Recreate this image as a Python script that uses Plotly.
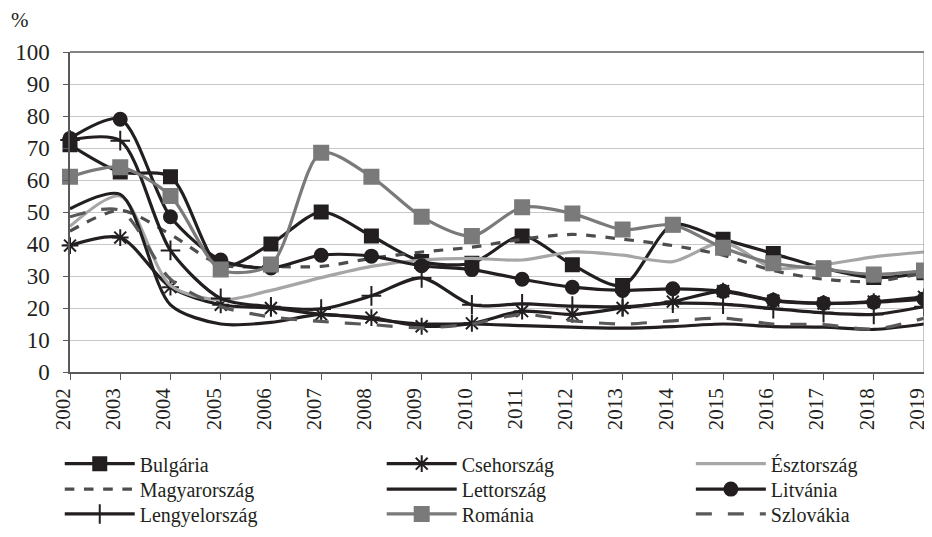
import plotly.graph_objects as go

years = list(range(2002, 2020))

bulgaria = [71, 62.5, 61, 33, 40, 50, 42.5, 34.5, 34, 42.5, 33.5, 27, 46, 41.5, 37, 32.5, 29.5, 31]
csehorszag = [39.5, 42, 26.5, 21, 20, 18, 17, 14.3, 15.2, 19, 18, 20, 22, 25.3, 22.3, 21.4, 22, 23.5]
esztorszag = [45.5, 55, 27, 22.5, 25.5, 29.5, 33, 35, 35.5, 35, 37.5, 36.5, 34.5, 40.5, 32.5, 33.5, 36, 37.5]
magyarorszag = [44, 50.5, 43, 33.5, 33, 33, 35.5, 37.5, 39, 41.5, 43, 41.5, 39.5, 36.5, 31.7, 29, 28.3, 31]
lettorszag = [51, 55.5, 21, 15, 15.5, 18, 16.5, 15, 15, 14.5, 14, 13.7, 14.2, 15, 14.2, 14, 13.3, 15]
litvania = [73, 79, 48.5, 35, 32.5, 36.5, 36.2, 33.2, 32, 29, 26.5, 25.5, 26, 25.2, 22.4, 21.5, 21.8, 22.8]
lengyelorszag = [72.5, 72.3, 38, 23, 20.4, 19.7, 23.8, 29.4, 21, 21.3, 20.6, 20.4, 21.5, 21.2, 19.8, 18.5, 18, 20.4]
romania = [61, 64, 55, 32, 33.6, 68.5, 61, 48.5, 42.5, 51.5, 49.5, 44.5, 46, 38.8, 34, 32.2, 30.5, 31.7]
szlovakia = [48.5, 50.5, 29, 20.5, 17.2, 15.8, 14.8, 13.8, 15, 18, 16, 15, 16, 16.8, 15, 14.8, 13.4, 16.8]

y_ticks = [0, 10, 20, 30, 40, 50, 60, 70, 80, 90, 100]

BLACK = "#231f20"
FONT = "Liberation Serif, Times New Roman, DejaVu Serif, serif"
series = [
    ("Bulgária", bulgaria, BLACK, "solid", "square", 13),
    ("Csehország", csehorszag, BLACK, "solid", "asterisk-open", 14),
    ("Észtország", esztorszag, "#a6a6a6", "solid", None, 0),
    ("Magyarország", magyarorszag, "#4d4d4d", "dash", None, 0),
    ("Lettország", lettorszag, BLACK, "solid", None, 0),
    ("Litvánia", litvania, BLACK, "solid", "circle", 13),
    ("Lengyelország", lengyelorszag, BLACK, "solid", "cross-thin-open", 14),
    ("Románia", romania, "#7a7a7a", "solid", "square", 14),
    ("Szlovákia", szlovakia, "#595959", "longdash", None, 0),
]

# legend grid: 3 columns x 3 rows (row-major), one legend box per entry
col_x = [-0.012, 0.365, 0.727]
row_y = [-0.2866, -0.3659, -0.4436]

fig = go.Figure()
legend_layouts = {}
for i, (name, vals, color, dash, sym, size) in enumerate(series):
    if sym:
        mode = "lines+markers"
        marker = dict(symbol=sym, size=size, color=color,
                      line=dict(color=color, width=2))
    else:
        mode = "lines"
        marker = None
    lname = "legend" if i == 0 else f"legend{i + 1}"
    fig.add_trace(go.Scatter(
        x=years, y=vals, name=name, mode=mode,
        line=dict(color=color, width=3.2, dash=dash, shape="spline", smoothing=0.8),
        marker=marker, cliponaxis=False, legend=lname,
    ))
    r, c = divmod(i, 3)
    legend_layouts[lname] = dict(
        x=col_x[c], xanchor="left", y=row_y[r], yanchor="middle",
        orientation="v", itemwidth=70, bgcolor="rgba(0,0,0,0)",
        font=dict(family=FONT, size=20, color=BLACK),
    )

fig.update_layout(
    width=932, height=537,
    margin=dict(l=62, r=16, t=44, b=165),
    paper_bgcolor="white", plot_bgcolor="white",
    font=dict(family=FONT, size=20, color=BLACK),
    showlegend=True,
    xaxis=dict(
        range=[2002, 2019], tickmode="array", tickvals=years,
        ticktext=[str(y) for y in years], tickangle=-90,
        showgrid=False, showline=True, linecolor="#595959", linewidth=1.5,
        ticks="outside", ticklen=6, tickcolor="#595959", mirror=False,
        zeroline=False, tickfont=dict(family=FONT, size=21, color=BLACK),
        ticklabeloverflow="allow", automargin=False, ticklabelshift=-7,
    ),
    yaxis=dict(
        range=[0, 100], tickmode="array", tickvals=y_ticks,
        showgrid=True, gridcolor="#c8c8c8", gridwidth=1.2,
        showline=True, linecolor="#595959", linewidth=1.5,
        ticks="outside", ticklen=5, tickcolor="#595959",
        zeroline=False, tickfont=dict(family=FONT, size=23, color=BLACK),
        ticklabelstandoff=9, automargin=False,
    ),
    annotations=[dict(text="%", x=-0.072, y=1.1, xref="paper", yref="paper",
                      xanchor="left", yanchor="middle", showarrow=False,
                      font=dict(family=FONT, size=21, color=BLACK))],
)
fig.update_layout(**legend_layouts)

fig.add_shape(type="line", xref="paper", yref="paper", x0=0, x1=1, y0=1, y1=1,
              line=dict(color="#595959", width=1.5))
fig.add_shape(type="line", xref="paper", yref="paper", x0=1, x1=1, y0=0, y1=1,
              line=dict(color="#8c8c8c", width=1))

fig.write_html("out.html")
